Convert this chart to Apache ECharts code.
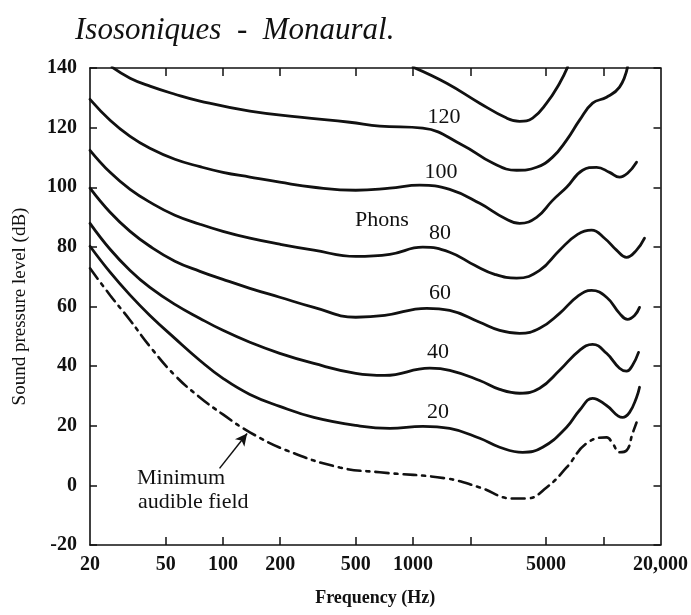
<!DOCTYPE html>
<html>
<head>
<meta charset="utf-8">
<script src="https://cdn.jsdelivr.net/npm/echarts@6/dist/echarts.min.js"></script>
<style>
html,body{margin:0;padding:0;background:#fff;}
#chart{width:691px;height:615px;}
</style>
</head>
<body>
<div id="chart"></div>
<script>
// ---------- data (frequency in Hz, sound pressure level in dB) ----------
const freq140 = [1000,1502,2240,3104,3632,4252,5036,5894,6494];
const spl140  = [140.3,134.9,128.2,123.2,122.1,123.2,128.2,134.9,140.3];

const freq120 = [26.1,32.5,41.3,55.9,75.7,138.6,253.8,464.7,668,1124,1823,2622,3504,4462,5416,6416,7508,8786,10406,12178,13420];
const spl120  = [140.3,136.6,133.9,131.2,128.9,125.5,123.5,121.8,120.5,119.8,114.1,108.1,105.7,106.7,110.1,115.8,122.5,128.2,130.2,133.6,140.3];

const freq100 = [20,25.5,32.5,41.3,55.9,75.7,100,138.6,199,300.6,499.6,753.8,1084,1558,2240,3030,3632,4462,5416,6416,7786,9224,10792,12178,13420,14964];
const spl100  = [129.5,122.5,117.1,113.1,109.4,106.9,105.0,103.4,101.7,100.0,99.0,99.7,100.7,99.3,94.6,89.6,87.9,89.9,95.6,100.0,105.7,106.7,105.0,103.4,104.7,108.4];

const freq80 = [20,25.5,32.5,41.3,55.9,75.7,100,138.6,199,300.6,499.6,753.8,1124,1558,2108,2686,3504,4628,5894,7328,8680,10158,11744,13256,14964,16484];
const spl80  = [112.4,105.0,99.3,95.0,90.6,87.6,85.2,82.9,80.9,78.9,76.8,77.5,79.9,78.2,73.8,70.8,69.5,72.1,78.9,84.2,85.6,82.9,78.9,76.5,78.9,82.9];

const freq60 = [20,25.5,32.5,41.3,55.9,75.7,100,138.6,199,300.6,499.6,709.5,1179,1558,2240,2853,3632,4628,5894,7328,8680,10406,12178,13420,14606,15518];
const spl60  = [99.7,91.6,85.2,80.2,75.2,71.8,69.1,66.1,63.1,59.7,56.4,57.0,59.4,58.7,54.7,52.0,51.0,52.7,57.7,63.4,65.4,63.1,57.7,55.7,57.0,59.7];

const freq40 = [20,25.5,32.5,41.3,55.9,75.7,100,138.6,199,300.6,499.6,709.5,1223,1558,2240,2853,3632,4628,5894,7508,8786,10406,12178,13256,14256,15332];
const spl40  = [87.9,79.2,72.1,66.4,60.7,56.0,52.0,48.0,44.3,40.9,37.6,36.9,39.3,38.6,35.2,32.2,30.9,32.6,38.6,45.3,47.3,44.3,39.3,38.3,40.3,44.6];

const freq20 = [20,25.5,32.5,41.3,55.9,75.7,100,138.6,199,300.6,499.6,753.8,1124,1558,2240,2853,3768,4800,6416,7508,8786,10406,12630,13750,14964,15518];
const spl20  = [80.2,71.5,63.8,57.0,49.3,41.9,35.9,30.5,26.5,22.8,20.1,19.1,19.8,19.1,15.8,12.8,11.1,12.8,19.5,25.2,29.2,26.8,22.8,24.5,29.5,32.9];

const freqMAF = [20,25.5,32.5,41.3,55.9,75.7,100,138.6,216.8,411.6,668,1502,2240,3338,3954,5036,6416,8172,10406,11190,12178,13256,14256,14964];
const splMAF  = [72.8,63.8,55.4,46.6,36.9,29.5,23.8,17.8,11.7,6.0,4.4,2.3,-0.7,-4.4,-4.4,-0.7,6.0,14.1,16.1,14.1,11.1,11.7,17.4,21.1];

// axis ticks / labels
const xTickFreqs  = [50,100,200,500,1000,2000,5000,10000];
const xLabelFreqs = [20,50,100,200,500,1000,5000,20000];
const xLabelTexts = ['20','50','100','200','500','1000','5000','20,000'];
const yMin = -20, yMax = 140, yStep = 20;
const fMin = 20, fMax = 20000;

// curve labels
const curveLabels = ['120','100','Phons','80','60','40','20'];
const arrowTail = [96, 5.7];   // Hz, dB
const arrowHead = [134, 17.4]; // Hz, dB

// ---------- chart ----------
const FONT = 'Liberation Serif';
const INK = '#111';
const lg = Math.log10;
function pts(f, s){ return f.map((v,i)=>[lg(v), s[i]]); }

function curve(name, f, s, dashed){
  return {
    name, type:'line', data: pts(f, s), showSymbol:false, smooth:0.45,
    clip:true, silent:true,
    lineStyle:{color:INK, width: dashed ? 2.6 : 2.8, type: dashed ? [13,6,3,6] : 'solid', cap:'round'}
  };
}

const axisLineStyle = {color:INK, width:1.6};
const xLabelFmt = v => {
  for (let i=0;i<xLabelFreqs.length;i++) if (Math.abs(lg(xLabelFreqs[i]) - v) < 1e-6) return xLabelTexts[i];
  return '';
};

const mafSeries = curve('Minimum audible field', freqMAF, splMAF, true);
mafSeries.markLine = {
  silent:true, symbol:['none','arrow'], symbolSize:[9,12],
  label:{show:false},
  lineStyle:{type:'solid', color:INK, width:1.5},
  data:[[{coord:[lg(arrowTail[0]), arrowTail[1]]},{coord:[lg(arrowHead[0]), arrowHead[1]]}]]
};

const labelPos = [[444,117],[441,172],[382,220],[440,233],[440,293],[438,352],[438,412]];

const option = {
  animation:false,
  backgroundColor:'#fff',
  grid:{left:90, right:30, top:68, bottom:70},
  xAxis:[{
    type:'value', min:lg(fMin), max:lg(fMax), position:'bottom',
    name:'Frequency (Hz)', nameLocation:'middle', nameGap:44,
    nameTextStyle:{fontFamily:FONT, fontSize:18, fontWeight:'bold', color:INK},
    axisLine:{show:true, onZero:false, lineStyle:axisLineStyle},
    axisTick:{show:true, inside:true, length:8, customValues:xTickFreqs.map(lg), lineStyle:{color:INK,width:1.5}},
    axisLabel:{customValues:xLabelFreqs.map(lg), formatter:xLabelFmt, margin:10, fontFamily:FONT, fontSize:20, fontWeight:'bold', color:INK},
    splitLine:{show:false}
  },{
    type:'value', min:lg(fMin), max:lg(fMax), position:'top',
    axisLine:{show:true, onZero:false, lineStyle:axisLineStyle},
    axisTick:{show:true, inside:true, length:8, customValues:xTickFreqs.map(lg), lineStyle:{color:INK,width:1.5}},
    axisLabel:{show:false}, splitLine:{show:false}
  }],
  yAxis:[{
    type:'value', min:yMin, max:yMax, interval:yStep, position:'left',
    name:'Sound pressure level (dB)', nameLocation:'middle', nameGap:60, nameRotate:90,
    nameTextStyle:{fontFamily:FONT, fontSize:19, color:INK},
    axisLine:{show:true, onZero:false, lineStyle:axisLineStyle},
    axisTick:{show:true, inside:true, length:7, lineStyle:{color:INK,width:1.5}},
    axisLabel:{margin:13, fontFamily:FONT, fontSize:20, fontWeight:'bold', color:INK},
    splitLine:{show:false}
  },{
    type:'value', min:yMin, max:yMax, interval:yStep, position:'right',
    axisLine:{show:true, onZero:false, lineStyle:axisLineStyle},
    axisTick:{show:true, inside:true, length:7, lineStyle:{color:INK,width:1.5}},
    axisLabel:{show:false}, splitLine:{show:false}
  }],
  series:[
    curve('140', freq140, spl140),
    curve('120', freq120, spl120),
    curve('100', freq100, spl100),
    curve('80', freq80, spl80),
    curve('60', freq60, spl60),
    curve('40', freq40, spl40),
    curve('20', freq20, spl20),
    mafSeries
  ],
  graphic:[
    {type:'text', left:75, top:15, style:{text:'Isosoniques  -  Monaural.', fontFamily:FONT, fontStyle:'italic', fontSize:31, fill:INK}},
    ...curveLabels.map((t,i)=>({type:'text', x:labelPos[i][0], y:labelPos[i][1],
      style:{text:t, fontFamily:FONT, fontSize:22, fill:INK, align:'center', verticalAlign:'middle'}})),
    {type:'text', x:137, y:478, style:{text:'Minimum', fontFamily:FONT, fontSize:22, fill:INK, align:'left', verticalAlign:'middle'}},
    {type:'text', x:138, y:502, style:{text:'audible field', fontFamily:FONT, fontSize:22, fill:INK, align:'left', verticalAlign:'middle'}}
  ]
};

const chart = echarts.init(document.getElementById('chart'), null, {renderer:'canvas'});
chart.setOption(option);
</script>
</body>
</html>
